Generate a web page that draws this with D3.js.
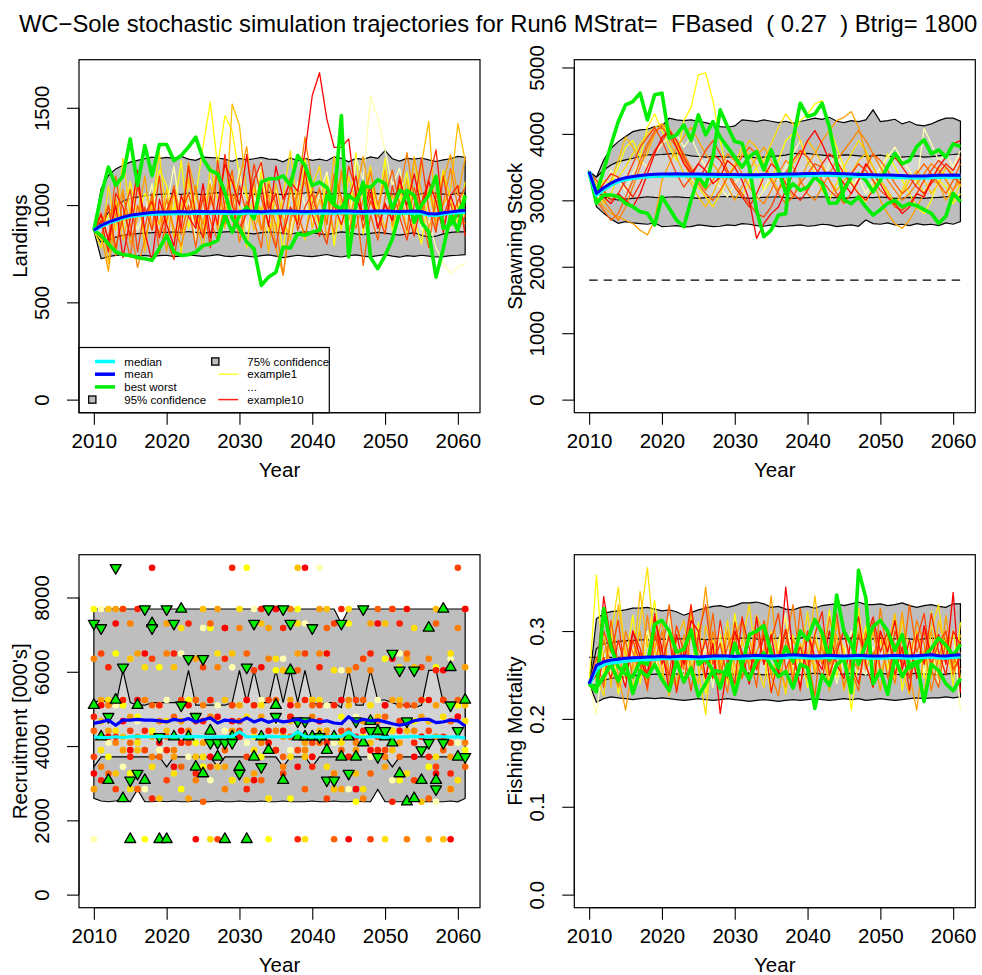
<!DOCTYPE html>
<html>
<head>
<meta charset="utf-8">
<script src="https://cdn.jsdelivr.net/npm/d3@7"></script>
<style>
  body { margin: 0; background: #fff; }
  svg { display: block; }
</style>
</head>
<body>
<svg id="chart" width="982" height="975"></svg>
<script>
// ---------------- data ----------------
const years = d3.range(2010, 2062);
const xTicks = [2010, 2020, 2030, 2040, 2050, 2060];

// Landings
const landP95hi = [
870, 1084, 1152, 1186, 1205, 1221, 1230, 1238, 1246, 1240,
1245, 1240, 1250, 1236, 1230, 1246, 1244, 1242, 1236, 1225,
1240, 1232, 1238, 1245, 1236, 1235, 1222, 1242, 1228, 1240,
1230, 1236, 1228, 1248, 1240, 1222, 1240, 1235, 1248, 1240,
1280, 1238, 1226, 1240, 1236, 1242, 1232, 1224, 1232, 1238,
1250, 1246];
const landP75hi = [
870, 912, 960, 998, 1020, 1035, 1041, 1048, 1052, 1055,
1058, 1060, 1054, 1062, 1058, 1052, 1060, 1064, 1056, 1050,
1058, 1062, 1055, 1060, 1066, 1058, 1052, 1060, 1056, 1062,
1068, 1060, 1054, 1058, 1062, 1056, 1050, 1060, 1064, 1058,
1062, 1056, 1060, 1054, 1048, 1058, 1066, 1060, 1056, 1052,
1062, 1060];
const landP75lo = [
870, 809, 822, 835, 845, 850, 853, 856, 858, 861,
860, 862, 858, 864, 860, 855, 861, 858, 862, 864,
858, 856, 852, 858, 862, 860, 856, 850, 858, 862,
858, 852, 848, 856, 862, 858, 852, 848, 855, 860,
856, 850, 846, 852, 858, 845, 835, 840, 852, 860,
862, 862];
const landP95lo = [
870, 724, 735, 741, 745, 742, 738, 741, 736, 740,
742, 735, 738, 744, 740, 736, 740, 745, 738, 735,
742, 738, 733, 740, 744, 738, 730, 736, 742, 738,
735, 740, 746, 738, 733, 740, 744, 738, 734, 740,
745, 738, 732, 740, 736, 742, 738, 733, 735, 740,
742, 745];
const landMedian = [
870, 892, 909, 922, 934, 943, 948, 952, 955, 956,
957, 958, 959, 958, 960, 959, 960, 961, 959, 960,
958, 960, 961, 960, 962, 961, 960, 962, 961, 960,
961, 962, 960, 961, 962, 963, 962, 961, 962, 963,
962, 961, 960, 961, 962, 960, 950, 948, 955, 960,
963, 965];
const landMean = [
870, 895, 912, 925, 938, 948, 953, 958, 962, 964,
965, 966, 967, 965, 968, 967, 966, 968, 967, 966,
967, 969, 968, 966, 968, 970, 969, 970, 968, 967,
968, 970, 969, 968, 969, 970, 968, 967, 968, 969,
970, 968, 967, 968, 969, 967, 955, 954, 960, 965,
970, 972];
const landBest = [
870, 1050, 1195, 1101, 1150, 1340, 1101, 1306, 1152, 1311,
1311, 1229, 1255, 1298, 1349, 1238, 1178, 1161, 1066, 931,
880, 810, 775, 587, 630, 655, 784, 780, 853, 845,
861, 870, 1049, 1000, 980, 1050, 1020, 1100, 1090, 1130,
1110, 980, 1075, 1060, 912, 1000, 1050, 1147, 880, 900,
960, 1032];
const landWorst = [
870, 844, 800, 760, 745, 741, 730, 724, 716, 777,
844, 758, 741, 745, 758, 792, 800, 818, 947, 861,
947, 989, 930, 1118, 1135, 1135, 1150, 1101, 1255, 1203,
1101, 1118, 1090, 1015, 1460, 733, 1000, 1118, 730, 673,
740, 826, 963, 1075, 1050, 912, 861, 630, 777, 947,
870, 1050];
const landExamples = [
[870, 820, 950, 1010, 880, 1120, 940, 1060, 990, 1180,
 1100, 960, 1230, 880, 1050, 1300, 1529, 1200, 1460, 1380,
 1150, 1040, 930, 1180, 860, 990, 760, 1090, 920, 1240,
 1010, 880, 1150, 790, 1030, 920, 1270, 850, 1110, 960,
 1240, 870, 1020, 1170, 930, 800, 1060, 990, 1180, 890,
 1010, 940],
[870, 900, 1000, 780, 950, 1050, 870, 960, 1110, 830,
 990, 1200, 930, 1060, 820, 970, 1130, 880, 1010, 940,
 1190, 870, 1000, 1230, 900, 1080, 960, 850, 1120, 1000,
 920, 1060, 1170, 980, 1050, 870, 1240, 1130, 1560, 1450,
 1280, 1100, 1190, 940, 1050, 870, 920, 780, 700, 650,
 680, 700],
[870, 780, 1100, 870, 1240, 950, 1150, 810, 1000, 1270,
 900, 1060, 750, 1120, 980, 840, 1200, 1030, 900, 1160,
 1000, 780, 1090, 950, 1140, 860, 1050, 1280, 970, 820,
 1100, 1200, 930, 1050, 870, 1150, 990, 1060, 1200, 880,
 1010, 930, 1110, 850, 1250, 960, 1080, 900, 1180, 1030,
 910, 1120],
[870, 930, 700, 1040, 820, 980, 1130, 760, 1050, 900,
 1080, 830, 990, 1140, 920, 780, 1050, 1180, 880, 1520,
 1409, 1060, 870, 990, 760, 1110, 930, 820, 1000, 1160,
 880, 1030, 910, 1250, 980, 840, 1090, 950, 1180, 1000,
 880, 1050, 960, 1130, 850, 1210, 1430, 910, 1000, 1080,
 1420, 1230],
[870, 850, 660, 960, 1080, 800, 930, 1150, 870, 990,
 760, 1100, 940, 1220, 1060, 900, 1110, 870, 1230, 990,
 1140, 1300, 990, 870, 1060, 780, 640, 910, 1050, 1120,
 970, 1090, 830, 1010, 1160, 920, 1060, 1250, 1010, 940,
 1180, 890, 1020, 950, 1240, 1070, 880, 1000, 1130, 1260,
 1050, 1240],
[870, 900, 1000, 740, 1060, 900, 680, 820, 980, 850,
 1030, 880, 790, 950, 1100, 850, 1010, 1160, 900, 1060,
 810, 980, 1130, 870, 1020, 900, 640, 930, 1070, 1350,
 1100, 920, 1060, 850, 1180, 1000, 880, 1030, 1170, 1000,
 1120, 960, 1060, 1270, 1040, 920, 1140, 880, 1010, 1190,
 990, 900],
[870, 960, 820, 1150, 890, 730, 1000, 880, 1060, 750,
 920, 1100, 850, 1000, 780, 1060, 920, 820, 1010, 1180,
 870, 1020, 920, 780, 1110, 1010, 860, 1100, 960, 840,
 1010, 1080, 900, 1160, 1040, 860, 1000, 690, 950, 820,
 1040, 1180, 1000, 870, 1090, 960, 780, 1060, 900, 1010,
 860, 950],
[870, 830, 1000, 780, 940, 1080, 760, 990, 870, 1150,
 830, 720, 960, 1060, 900, 1040, 780, 1230, 980, 860,
 1100, 950, 1210, 1040, 900, 780, 1000, 1140, 870, 990,
 1060, 900, 800, 1020, 950, 1200, 1080, 880, 1020, 960,
 850, 1100, 940, 820, 1000, 1240, 980, 860, 1150, 930,
 1020, 1090],
[870, 920, 760, 1060, 990, 840, 1100, 950, 1020, 830,
 970, 1080, 880, 1200, 940, 830, 1050, 900, 1260, 1000,
 870, 960, 1130, 1220, 980, 1060, 850, 990, 900, 1180,
 950, 840, 1080, 1000, 900, 1030, 1150, 920, 1060, 880,
 1000, 920, 1150, 980, 840, 1010, 1130, 1284, 940, 1050,
 1100, 840],
[870, 950, 820, 1000, 730, 930, 1180, 860, 710, 1030,
 900, 790, 1050, 940, 880, 1110, 830, 1000, 1210, 1120,
 1000, 1260, 970, 1100, 890, 1200, 1030, 1120, 1070, 1270,
 1563, 1680, 1443, 1297, 1297, 1340, 1040, 950, 1100, 880,
 1010, 920, 1130, 1000, 1160, 980, 1120, 1020, 860, 1050,
 940, 1000]
];

// Spawning stock
const ssbBtrig = 1800;
const ssbP95hi = [
3431, 3347, 3608, 3784, 3884, 3960, 4034, 4060, 4070, 4110,
4120, 4236, 4210, 4200, 4211, 4190, 4170, 4140, 4110, 4100,
4120, 4211, 4200, 4186, 4211, 4190, 4170, 4190, 4160, 4186,
4210, 4236, 4220, 4250, 4190, 4170, 4200, 4186, 4210, 4362,
4186, 4200, 4220, 4150, 4186, 4135, 4120, 4150, 4200, 4236,
4236, 4190];
const ssbP75hi = [
3431, 3347, 3457, 3532, 3582, 3610, 3633, 3660, 3683, 3683,
3690, 3700, 3708, 3690, 3670, 3660, 3650, 3660, 3658, 3650,
3660, 3658, 3650, 3640, 3650, 3658, 3670, 3680, 3708, 3700,
3708, 3690, 3680, 3670, 3670, 3683, 3680, 3670, 3660, 3670,
3680, 3660, 3658, 3650, 3660, 3670, 3650, 3658, 3670, 3683,
3690, 3700];
const ssbP75lo = [
3431, 3155, 3054, 3020, 3005, 3020, 3030, 3040, 3054, 3045,
3040, 3050, 3054, 3045, 3040, 3030, 3040, 3050, 3054, 3060,
3050, 3040, 3030, 3040, 3045, 3050, 3054, 3040, 3030, 3035,
3040, 3050, 3054, 3045, 3040, 3030, 3040, 3050, 3045, 3040,
3050, 3040, 3030, 3035, 3045, 3040, 3030, 3040, 3045, 3054,
3060, 3055];
const ssbP95lo = [
3431, 2904, 2804, 2720, 2653, 2680, 2660, 2650, 2640, 2660,
2603, 2610, 2620, 2600, 2603, 2630, 2620, 2603, 2610, 2630,
2620, 2650, 2640, 2620, 2610, 2630, 2603, 2610, 2620, 2630,
2610, 2620, 2640, 2630, 2603, 2620, 2630, 2610, 2703, 2650,
2640, 2660, 2630, 2640, 2620, 2650, 2630, 2640, 2620, 2660,
2640, 2680];
const ssbMedian = [
3431, 3080, 3165, 3235, 3285, 3315, 3335, 3350, 3360, 3367,
3371, 3373, 3375, 3373, 3371, 3370, 3369, 3367, 3365, 3363,
3362, 3361, 3360, 3361, 3363, 3365, 3367, 3370, 3373, 3375,
3378, 3380, 3382, 3383, 3380, 3375, 3370, 3365, 3363, 3360,
3357, 3355, 3351, 3347, 3343, 3340, 3343, 3347, 3351, 3353,
3355, 3353];
const ssbMean = [
3431, 3105, 3190, 3260, 3310, 3340, 3360, 3375, 3385, 3392,
3396, 3398, 3400, 3398, 3396, 3395, 3394, 3392, 3390, 3388,
3387, 3386, 3385, 3386, 3388, 3390, 3392, 3395, 3398, 3400,
3403, 3405, 3407, 3408, 3405, 3400, 3395, 3390, 3388, 3385,
3382, 3380, 3376, 3372, 3368, 3365, 3368, 3372, 3376, 3378,
3380, 3378];
const ssbBest = [
3431, 3105, 3457, 3834, 4186, 4437, 4487, 4613, 4211, 4588,
4613, 3935, 3985, 4135, 3900, 4286, 3985, 4186, 3950, 3800,
3650, 3500, 3658, 3733, 3457, 3759, 3457, 3105, 3250, 3150,
3200, 3350, 3250, 2955, 2960, 3150, 3350, 3400, 3300, 3130,
3300, 3507, 3708, 3550, 3600, 3808, 3909, 3700, 3760, 3650,
3850, 3808];
const ssbWorst = [
3431, 2955, 3080, 3080, 3054, 2955, 2904, 2828, 2804, 2628,
3054, 2880, 2703, 2603, 3005, 3356, 3206, 3650, 4362, 4110,
3884, 3859, 3500, 2850, 2452, 2552, 2778, 2800, 3909, 4462,
4260, 4300, 4462, 4100, 3558, 3005, 2950, 3050, 2900, 2778,
2860, 2955, 3000, 2900, 2950, 2920, 2860, 2804, 2653, 2760,
3105, 2980];
const ssbExamples = [
[3431, 3100, 3300, 3250, 3500, 3800, 3900, 3650, 4100, 4300,
 4050, 3800, 3600, 4200, 4400, 4889, 4920, 4500, 3900, 3400,
 3200, 3050, 3300, 3500, 3150, 3300, 3600, 3900, 4000, 4200,
 4300, 4450, 4500, 4100, 3800, 3500, 3300, 3100, 2980, 3200,
 3400, 3700, 3500, 3300, 3100, 2900, 2800, 3000, 3300, 3200,
 2950, 3100],
[3431, 3000, 3200, 3450, 3300, 3150, 3400, 3600, 3500, 3700,
 3850, 3950, 4000, 3800, 3950, 3700, 3500, 3300, 3200, 3050,
 3250, 3400, 3200, 3000, 3150, 3400, 3300, 3500, 3700, 3900,
 3600, 3450, 3300, 3550, 3700, 3400, 3200, 3350, 3100, 3300,
 3500, 3650, 3800, 3600, 3450, 3250, 4085, 3850, 3600, 3700,
 3500, 3750],
[3431, 3200, 2950, 3100, 3350, 3500, 3700, 3850, 4000, 4100,
 4150, 4020, 3850, 3600, 3300, 3200, 3050, 2900, 3100, 3350,
 3550, 3800, 3700, 3500, 3600, 3850, 4100, 4300, 4150, 3900,
 3600, 3400, 3150, 3000, 3250, 3500, 3700, 3900, 3750, 3500,
 3300, 3100, 2900, 3150, 3400, 3300, 3100, 3300, 3500, 3350,
 3000, 3250],
[3431, 3250, 3100, 3300, 3600, 3950, 3800, 3550, 3700, 4000,
 4150, 3900, 3650, 3400, 3250, 3050, 2900, 3100, 3350, 3600,
 3500, 3700, 3900, 3800, 3550, 3350, 3150, 3300, 3550, 3700,
 3900, 3750, 3550, 3300, 3150, 3300, 3400, 3600, 3700, 3500,
 3300, 3150, 2950, 3100, 3300, 3450, 3300, 3100, 3250, 3500,
 3400, 3200],
[3431, 3050, 2900, 2800, 2750, 2700, 2650, 2550, 2480, 2700,
 3300, 3550, 3800, 3950, 4100, 3900, 3700, 3550, 3400, 3200,
 3000, 3200, 3450, 3650, 3800, 3600, 3400, 3200, 3050, 3300,
 3550, 3700, 3900, 4050, 4200, 4250, 4336, 4100, 3700, 3300,
 3000, 2800, 2650, 2580, 2700, 2900, 3100, 3300, 3250, 3000,
 3150, 3300],
[3431, 3150, 3000, 2850, 2700, 2900, 3200, 3500, 3800, 4000,
 4150, 4080, 3900, 3700, 3500, 3300, 3150, 3300, 3500, 3700,
 3600, 3400, 3200, 3050, 2950, 3150, 3400, 3600, 3500, 3300,
 3100, 3000, 3200, 3400, 3600, 3750, 3900, 4050, 3900, 3700,
 3500, 3300, 3150, 3000, 3100, 3250, 3400, 3550, 3450, 3300,
 3150, 3400],
[3431, 3000, 2850, 2700, 2800, 3050, 3300, 3600, 3850, 4050,
 4100, 3950, 3800, 3600, 3400, 3250, 3100, 3000, 3150, 3350,
 3500, 3650, 3800, 3700, 3500, 3300, 3100, 2950, 3050, 3250,
 3400, 3550, 3500, 3300, 3100, 2950, 3100, 3300, 3500, 3700,
 3600, 3450, 3250, 3100, 3200, 3400, 3550, 3400, 3250, 3100,
 3300, 3550],
[3431, 3300, 3150, 3000, 3100, 3300, 3550, 3800, 3950, 4100,
 3900, 3650, 3400, 3200, 3350, 3550, 3750, 3900, 3700, 3450,
 3250, 3100, 2950, 2800, 2750, 2900, 3150, 3400, 3600, 3750,
 3650, 3500, 3300, 3150, 3050, 3200, 3400, 3550, 3450, 3300,
 3150, 3050, 2900, 2850, 2950, 3100, 3300, 3450, 3600, 3500,
 3350, 3250],
[3431, 3100, 3250, 3400, 3350, 3200, 3050, 3250, 3500, 3750,
 3900, 4050, 3900, 3650, 3450, 3300, 3500, 3700, 3600, 3400,
 3200, 3050, 2900, 3100, 3350, 3550, 3450, 3250, 3100, 3000,
 3150, 3350, 3550, 3700, 3600, 3400, 3250, 3100, 3000, 3150,
 3300, 3500, 3650, 3500, 3350, 3200, 3100, 3250, 3400, 3550,
 3450, 3650],
[3431, 3150, 3050, 2950, 3100, 3000, 2900, 3100, 3400, 3700,
 3950, 4050, 3800, 3550, 3400, 3550, 3450, 3250, 3350, 3600,
 3500, 3300, 3000, 2427, 2650, 2800, 2900, 3150, 3400, 3650,
 3900, 4050, 3850, 3600, 3400, 3250, 3100, 3300, 3550, 3400,
 3250, 3050, 2950, 2800, 2900, 3100, 3050, 3300, 3500, 3650,
 3850, 3900]
];

// Recruitment [000's]
const recP95hi = [
7690, 7690, 7690, 7690, 7690, 7690, 7690, 7690, 7690, 7690,
7690, 7690, 7690, 7690, 7690, 7690, 7690, 7690, 7690, 7690,
7690, 7690, 7690, 7690, 7690, 7690, 7690, 7690, 7690, 7690,
7690, 7690, 7690, 7690, 7300, 7690, 7690, 7690, 7690, 7690,
7690, 7690, 7690, 7690, 7690, 7690, 7690, 7690, 7690, 7690,
7690, 7690];
const recP75hi = [
5170, 5240, 5170, 5100, 6040, 5170, 5100, 5100, 5170, 5170,
5170, 5170, 5170, 6040, 5100, 5100, 5100, 5100, 5100, 5170,
6040, 5170, 6040, 5170, 5170, 6040, 5170, 6040, 5170, 6040,
5170, 5100, 5170, 5170, 5030, 6040, 5100, 5100, 6040, 5240,
5240, 5170, 5100, 5100, 5030, 5100, 6040, 6040, 5170, 5170,
5170, 5170];
const recP75lo = [
3440, 3710, 3710, 3710, 3710, 3710, 3710, 3710, 3710, 3710,
3440, 3710, 3710, 3710, 3710, 3710, 3710, 3440, 3710, 3710,
3710, 3710, 3710, 3710, 3710, 3710, 3440, 3710, 3710, 3710,
3440, 3710, 3710, 3710, 3710, 3710, 3710, 3710, 3710, 3710,
3710, 3440, 3710, 3710, 3710, 3710, 3710, 3710, 3710, 3710,
3710, 3710];
const recP95lo = [
2590, 2520, 2500, 2520, 2590, 2500, 2835, 2500, 2500, 2520,
2500, 2520, 2500, 2500, 2520, 2500, 2500, 2520, 2500, 2500,
2520, 2500, 2500, 2520, 2500, 2500, 2520, 2500, 2500, 2500,
2520, 2500, 2500, 2520, 2500, 2500, 2520, 2500, 2500, 2835,
2500, 2500, 2500, 2500, 2520, 2500, 2500, 2500, 2500, 2520,
2500, 2590];
const recMedian = [
4250, 4230, 4230, 4250, 4230, 4250, 4260, 4250, 4250, 4260,
4250, 4260, 4250, 4250, 4260, 4250, 4240, 4250, 4250, 4260,
4380, 4250, 4250, 4250, 4260, 4250, 4250, 4250, 4380, 4250,
4250, 4240, 4250, 4260, 4250, 4380, 4250, 4240, 4250, 4250,
4230, 4250, 4240, 4250, 4260, 4250, 4250, 4260, 4250, 4240,
4250, 4210];
const recMean = [
4610, 4650, 4700, 4560, 4700, 4700, 4720, 4700, 4700, 4680,
4650, 4720, 4680, 4740, 4650, 4700, 4760, 4620, 4700, 4680,
4650, 4760, 4650, 4720, 4640, 4700, 4650, 4680, 4720, 4650,
4700, 4650, 4680, 4620, 4600, 4790, 4650, 4720, 4680, 4700,
4650, 4600, 4560, 4600, 4680, 4720, 4720, 4630, 4650, 4700,
4680, 4540];
const recBest = [
5100, 4250, 3080, 5240, 2590, 1490, 5100, 3080, 7300, 1490,
1490, 4250, 7690, 4250, 3440, 3260, 4410, 3710, 1490, 4250,
3440, 1490, 3710, 4250, 3890, 5100, 3080, 6040, 4250, 4250,
4250, 4250, 3890, 4250, 3710, 4250, 3710, 4090, 4670, 4410,
4250, 4090, 3260, 2500, 2590, 3080, 7180, 3080, 7690, 6120,
3710, 5240];
const recWorst = [
7300, 7180, 4790, 8800, 6120, 3080, 3260, 7690, 7180, 4250,
7690, 7300, 5100, 6350, 4790, 6350, 4090, 4090, 4090, 4090,
3260, 6120, 7300, 3440, 7690, 4790, 7690, 7300, 4670, 4670,
7180, 4250, 3080, 3080, 7300, 3260, 4670, 7690, 4410, 3710,
4410, 6490, 6040, 4670, 6040, 3890, 4090, 2840, 4090, 5100,
4410, 3710];
const recExamples = [
[7690, 4250, 3710, 6490, 5100, 3260, 4790, 1490, 4410, 6120,
 3890, 7300, 2840, 5240, 4090, 3440, 7180, 4670, 6350, 3080,
 5100, 8800, 4250, 3710, 1490, 6040, 4410, 2590, 7690, 3890,
 5240, 4090, 6490, 3260, 4790, 7300, 2500, 4250, 5100, 3710,
 6350, 4410, 3080, 7690, 4670, 5240, 3440, 6120, 4090, 2840,
 5100, 3890],
[1490, 7690, 4090, 5100, 3440, 6350, 4670, 2840, 7300, 3890,
 5240, 4250, 6490, 3710, 4790, 7180, 3080, 5100, 4410, 6120,
 3260, 4090, 7690, 5240, 2590, 4670, 6350, 3890, 4250, 7300,
 3440, 8800, 5100, 4090, 6040, 2840, 4790, 7690, 3710, 5240,
 4250, 3080, 6490, 4410, 5100, 3890, 7180, 2500, 4670, 6350,
 4090, 7690],
[7300, 3890, 5240, 4410, 7690, 2840, 4090, 6120, 3440, 5100,
 4670, 3260, 7180, 4250, 5240, 3710, 1490, 6490, 4090, 3080,
 7690, 4790, 3890, 5100, 2590, 6350, 4410, 3710, 7300, 1490,
 4250, 5240, 3440, 6040, 4090, 7690, 4670, 2840, 5100, 3890,
 1490, 4410, 6120, 3260, 7180, 4250, 5240, 3710, 4790, 6490,
 3080, 4670],
[5100, 4670, 7690, 3260, 4250, 6350, 3890, 5240, 7180, 2590,
 4410, 6120, 4090, 5100, 3710, 7690, 4790, 3440, 5240, 6490,
 4250, 3080, 5100, 7300, 4090, 3890, 6040, 4670, 8800, 3710,
 5240, 4410, 7690, 2840, 4250, 5100, 3260, 6350, 4090, 4790,
 7300, 3890, 5240, 4410, 6120, 2500, 4670, 7690, 1490, 4090,
 3710, 5100],
[2840, 5240, 4410, 7690, 3890, 4790, 6490, 3080, 4250, 5100,
 7300, 3710, 4670, 2590, 6350, 4090, 5240, 7690, 3440, 4410,
 5100, 6120, 3260, 4790, 7180, 3890, 4250, 5240, 6490, 4090,
 3710, 7690, 4410, 5100, 2840, 6040, 3890, 4670, 7300, 4250,
 3440, 5240, 4090, 6350, 3080, 4790, 1490, 5100, 7690, 3710,
 4410, 6120],
[6350, 3440, 5100, 4090, 2590, 7300, 4250, 5240, 3710, 4670,
 6490, 3890, 7690, 4410, 3080, 5100, 4790, 6120, 2840, 4250,
 7180, 5240, 3710, 4090, 6350, 4410, 3440, 7690, 5100, 3890,
 4790, 6490, 4250, 3260, 7300, 5240, 4090, 2590, 6040, 4670,
 3710, 7690, 5100, 1490, 4410, 3890, 6350, 4250, 5240, 2840,
 7180, 4090],
[4410, 7180, 3260, 5240, 6120, 4090, 2840, 7690, 5100, 3710,
 4250, 4790, 3440, 6350, 5240, 2500, 7300, 4090, 3890, 5100,
 4670, 6490, 4410, 3080, 7690, 5240, 3710, 4250, 6040, 2840,
 5100, 4090, 7180, 1490, 3890, 4410, 6120, 5240, 3260, 7690,
 4790, 4090, 3710, 6490, 5100, 4250, 2590, 7300, 3890, 4670,
 5240, 3440],
[3710, 6490, 4790, 2840, 7690, 4410, 5100, 3890, 6350, 4250,
 3080, 7300, 5240, 4090, 4670, 6120, 3440, 1490, 7180, 5100,
 4410, 3710, 6040, 4250, 5240, 7690, 3260, 4790, 3890, 6490,
 4090, 5100, 2590, 7300, 4410, 3710, 5240, 6350, 1490, 4250,
 3890, 7690, 4670, 5100, 3080, 6120, 4410, 3440, 5240, 4090,
 8800, 3710],
[4790, 3080, 6120, 4250, 5240, 3710, 7690, 4410, 2590, 5100,
 3890, 6490, 4090, 7300, 3260, 4670, 5240, 3710, 6350, 8800,
 4250, 2840, 5100, 7690, 4410, 3890, 7180, 4790, 1490, 5240,
 3440, 6120, 4090, 5100, 7690, 3710, 4250, 4410, 6490, 3890,
 5100, 2500, 7300, 4670, 4090, 5240, 3710, 6040, 4250, 3260,
 4790, 7690],
[3260, 5100, 4250, 7300, 4670, 3890, 5240, 6490, 8800, 4090,
 7690, 3440, 4410, 5100, 1490, 6350, 3710, 4790, 7180, 4670,
 4250, 5240, 3080, 6120, 4090, 7690, 4410, 5100, 3440, 8800,
 3710, 4670, 6490, 4250, 5240, 1490, 2840, 4090, 3890, 7300,
 5100, 6350, 4410, 7690, 3710, 4250, 5240, 3260, 6040, 1490,
 4790, 7690]
];

// Fishing mortality
const fTarget = 0.27;
const fP95hi = [
0.240, 0.314, 0.320, 0.322, 0.323, 0.324, 0.326, 0.326, 0.327, 0.325,
0.323, 0.324, 0.322, 0.318, 0.321, 0.324, 0.326, 0.328, 0.329, 0.327,
0.329, 0.332, 0.332, 0.333, 0.331, 0.327, 0.328, 0.325, 0.324, 0.327,
0.328, 0.326, 0.329, 0.330, 0.331, 0.329, 0.331, 0.333, 0.330, 0.330,
0.331, 0.329, 0.330, 0.332, 0.329, 0.327, 0.329, 0.330, 0.328, 0.327,
0.331, 0.331];
const fP75hi = [
0.240, 0.280, 0.2855, 0.287, 0.288, 0.289, 0.289, 0.290, 0.290, 0.290,
0.291, 0.290, 0.291, 0.291, 0.292, 0.291, 0.290, 0.291, 0.292, 0.291,
0.291, 0.292, 0.292, 0.291, 0.290, 0.291, 0.292, 0.292, 0.291, 0.292,
0.293, 0.292, 0.291, 0.292, 0.291, 0.291, 0.292, 0.291, 0.290, 0.291,
0.292, 0.291, 0.291, 0.292, 0.291, 0.290, 0.291, 0.292, 0.291, 0.291,
0.292, 0.292];
const fP75lo = [
0.240, 0.238, 0.244, 0.246, 0.2477, 0.248, 0.249, 0.250, 0.250, 0.251,
0.251, 0.250, 0.251, 0.252, 0.251, 0.250, 0.251, 0.252, 0.251, 0.250,
0.251, 0.251, 0.252, 0.251, 0.250, 0.251, 0.252, 0.251, 0.251, 0.250,
0.251, 0.252, 0.251, 0.250, 0.251, 0.251, 0.252, 0.251, 0.250, 0.251,
0.252, 0.251, 0.251, 0.250, 0.251, 0.252, 0.251, 0.251, 0.250, 0.251,
0.252, 0.251];
const fP95lo = [
0.240, 0.219, 0.223, 0.225, 0.224, 0.223, 0.222, 0.223, 0.224, 0.223,
0.224, 0.223, 0.222, 0.221, 0.222, 0.223, 0.222, 0.221, 0.222, 0.223,
0.222, 0.221, 0.220, 0.221, 0.222, 0.221, 0.220, 0.221, 0.222, 0.221,
0.222, 0.223, 0.222, 0.221, 0.222, 0.223, 0.222, 0.223, 0.221, 0.222,
0.223, 0.222, 0.221, 0.222, 0.223, 0.224, 0.223, 0.224, 0.224, 0.225,
0.224, 0.225];
const fMedian = [
0.240, 0.257, 0.262, 0.264, 0.265, 0.266, 0.267, 0.268, 0.268, 0.268,
0.269, 0.269, 0.269, 0.2695, 0.269, 0.269, 0.269, 0.2695, 0.270, 0.2695,
0.269, 0.2695, 0.270, 0.2705, 0.270, 0.2695, 0.270, 0.2705, 0.271, 0.2705,
0.270, 0.2695, 0.270, 0.2705, 0.270, 0.2695, 0.270, 0.2705, 0.270, 0.2695,
0.2695, 0.270, 0.2705, 0.270, 0.2695, 0.270, 0.2705, 0.271, 0.270, 0.2695,
0.2705, 0.271];
const fMean = [
0.240, 0.261, 0.265, 0.267, 0.268, 0.269, 0.2695, 0.270, 0.2705, 0.2705,
0.271, 0.2705, 0.271, 0.2715, 0.271, 0.2705, 0.271, 0.2715, 0.272, 0.2715,
0.271, 0.2715, 0.272, 0.2725, 0.272, 0.2715, 0.272, 0.2725, 0.273, 0.2725,
0.272, 0.2715, 0.272, 0.2725, 0.272, 0.2715, 0.272, 0.2725, 0.272, 0.2715,
0.2715, 0.272, 0.2725, 0.272, 0.2715, 0.272, 0.2725, 0.273, 0.272, 0.2715,
0.2725, 0.273];
const fBest = [
0.240, 0.231, 0.3255, 0.282, 0.259, 0.251, 0.248, 0.265, 0.262, 0.308,
0.312, 0.300, 0.276, 0.279, 0.301, 0.262, 0.268, 0.255, 0.254, 0.250,
0.286, 0.260, 0.296, 0.300, 0.306, 0.275, 0.258, 0.282, 0.265, 0.300,
0.290, 0.313, 0.298, 0.267, 0.341, 0.300, 0.285, 0.262, 0.285, 0.305,
0.312, 0.300, 0.278, 0.296, 0.258, 0.262, 0.271, 0.280, 0.292, 0.284,
0.272, 0.285];
const fWorst = [
0.240, 0.235, 0.248, 0.262, 0.243, 0.265, 0.229, 0.255, 0.248, 0.262,
0.245, 0.232, 0.266, 0.242, 0.258, 0.226, 0.240, 0.255, 0.235, 0.262,
0.228, 0.260, 0.245, 0.266, 0.275, 0.260, 0.248, 0.254, 0.235, 0.262,
0.258, 0.212, 0.250, 0.238, 0.262, 0.268, 0.230, 0.369, 0.338, 0.240,
0.255, 0.228, 0.270, 0.248, 0.262, 0.265, 0.220, 0.262, 0.255, 0.240,
0.232, 0.246];
const fExamples = [
[0.240, 0.364, 0.250, 0.300, 0.228, 0.265, 0.318, 0.240, 0.290, 0.335,
 0.262, 0.300, 0.236, 0.280, 0.250, 0.310, 0.228, 0.270, 0.296, 0.240,
 0.320, 0.262, 0.246, 0.302, 0.270, 0.230, 0.288, 0.316, 0.250, 0.276,
 0.236, 0.300, 0.262, 0.324, 0.248, 0.282, 0.210, 0.266, 0.306, 0.240,
 0.290, 0.256, 0.316, 0.232, 0.275, 0.300, 0.246, 0.322, 0.262, 0.292,
 0.238, 0.310],
[0.240, 0.205, 0.275, 0.250, 0.290, 0.240, 0.280, 0.262, 0.300, 0.270,
 0.245, 0.316, 0.270, 0.248, 0.296, 0.262, 0.280, 0.236, 0.306, 0.272,
 0.255, 0.290, 0.262, 0.300, 0.275, 0.250, 0.280, 0.320, 0.262, 0.242,
 0.296, 0.270, 0.256, 0.286, 0.240, 0.272, 0.300, 0.262, 0.250, 0.282,
 0.268, 0.296, 0.244, 0.276, 0.262, 0.300, 0.252, 0.284, 0.240, 0.270,
 0.300, 0.210],
[0.240, 0.250, 0.226, 0.296, 0.350, 0.265, 0.236, 0.312, 0.372, 0.280,
 0.246, 0.300, 0.232, 0.275, 0.320, 0.256, 0.205, 0.290, 0.262, 0.312,
 0.250, 0.286, 0.330, 0.262, 0.236, 0.300, 0.270, 0.228, 0.296, 0.262,
 0.322, 0.256, 0.290, 0.240, 0.310, 0.276, 0.250, 0.326, 0.262, 0.236,
 0.300, 0.270, 0.246, 0.312, 0.282, 0.256, 0.226, 0.302, 0.330, 0.264,
 0.300, 0.246],
[0.240, 0.262, 0.300, 0.236, 0.330, 0.275, 0.256, 0.345, 0.282, 0.300,
 0.256, 0.226, 0.290, 0.312, 0.262, 0.240, 0.306, 0.276, 0.256, 0.300,
 0.232, 0.290, 0.262, 0.318, 0.296, 0.250, 0.276, 0.302, 0.246, 0.286,
 0.262, 0.340, 0.280, 0.250, 0.296, 0.232, 0.270, 0.312, 0.262, 0.300,
 0.250, 0.282, 0.320, 0.256, 0.228, 0.300, 0.270, 0.246, 0.312, 0.280,
 0.256, 0.296],
[0.240, 0.230, 0.275, 0.290, 0.250, 0.210, 0.262, 0.300, 0.240, 0.280,
 0.312, 0.252, 0.236, 0.296, 0.256, 0.280, 0.350, 0.276, 0.240, 0.300,
 0.262, 0.246, 0.292, 0.256, 0.276, 0.340, 0.262, 0.236, 0.290, 0.270,
 0.300, 0.250, 0.282, 0.232, 0.312, 0.266, 0.240, 0.300, 0.256, 0.276,
 0.232, 0.296, 0.262, 0.322, 0.250, 0.210, 0.276, 0.300, 0.246, 0.318,
 0.262, 0.290],
[0.240, 0.250, 0.290, 0.262, 0.236, 0.300, 0.276, 0.250, 0.318, 0.262,
 0.300, 0.240, 0.282, 0.256, 0.326, 0.270, 0.246, 0.300, 0.262, 0.230,
 0.292, 0.312, 0.256, 0.276, 0.300, 0.250, 0.226, 0.286, 0.330, 0.262,
 0.246, 0.290, 0.262, 0.316, 0.280, 0.236, 0.270, 0.256, 0.300, 0.246,
 0.326, 0.270, 0.240, 0.296, 0.262, 0.312, 0.286, 0.232, 0.270, 0.300,
 0.250, 0.276],
[0.240, 0.270, 0.236, 0.312, 0.262, 0.290, 0.246, 0.276, 0.232, 0.300,
 0.276, 0.330, 0.262, 0.240, 0.300, 0.280, 0.262, 0.320, 0.250, 0.282,
 0.300, 0.246, 0.276, 0.236, 0.312, 0.282, 0.262, 0.300, 0.240, 0.326,
 0.270, 0.226, 0.296, 0.262, 0.282, 0.300, 0.256, 0.232, 0.290, 0.270,
 0.300, 0.246, 0.286, 0.262, 0.330, 0.276, 0.300, 0.256, 0.236, 0.290,
 0.270, 0.256],
[0.240, 0.256, 0.300, 0.276, 0.312, 0.246, 0.290, 0.262, 0.236, 0.296,
 0.270, 0.250, 0.306, 0.276, 0.232, 0.296, 0.330, 0.262, 0.286, 0.246,
 0.310, 0.270, 0.240, 0.300, 0.262, 0.290, 0.320, 0.256, 0.276, 0.232,
 0.300, 0.270, 0.246, 0.286, 0.320, 0.262, 0.240, 0.296, 0.270, 0.310,
 0.256, 0.232, 0.300, 0.276, 0.246, 0.290, 0.320, 0.262, 0.286, 0.300,
 0.256, 0.270],
[0.240, 0.232, 0.270, 0.246, 0.290, 0.256, 0.300, 0.280, 0.250, 0.320,
 0.262, 0.296, 0.230, 0.276, 0.330, 0.262, 0.290, 0.246, 0.312, 0.262,
 0.240, 0.316, 0.280, 0.256, 0.296, 0.230, 0.270, 0.302, 0.262, 0.282,
 0.256, 0.296, 0.322, 0.250, 0.276, 0.300, 0.262, 0.240, 0.290, 0.316,
 0.276, 0.300, 0.250, 0.282, 0.232, 0.296, 0.262, 0.320, 0.276, 0.250,
 0.300, 0.284],
[0.240, 0.250, 0.339, 0.290, 0.262, 0.236, 0.300, 0.270, 0.246, 0.316,
 0.280, 0.232, 0.296, 0.262, 0.312, 0.300, 0.246, 0.286, 0.206, 0.262,
 0.300, 0.276, 0.240, 0.316, 0.262, 0.296, 0.250, 0.350, 0.276, 0.236,
 0.296, 0.270, 0.256, 0.300, 0.262, 0.246, 0.290, 0.316, 0.262, 0.236,
 0.300, 0.276, 0.312, 0.256, 0.290, 0.246, 0.306, 0.270, 0.296, 0.262,
 0.344, 0.230]
];

// ---------------- drawing ----------------
const FONT = "'Liberation Sans', Arial, Helvetica, sans-serif";
const AXIS_FS = 20.5;
const exColors = ["#FFFF00", "#FFFFB0", "#FFE000", "#FFC000", "#FFA000",
                  "#FF8000", "#FF6000", "#FF4000", "#FF2000", "#FF0000"];
const GREEN = "#00EE00";
const BAND95 = "#BEBEBE", BAND75 = "#D3D3D3";

const svg = d3.select("#chart").attr("font-family", FONT);
svg.append("rect").attr("width", 982).attr("height", 975).attr("fill", "#fff");

svg.append("text")
  .attr("x", 498).attr("y", 32)
  .attr("text-anchor", "middle")
  .attr("font-size", 23.8)
  .style("white-space", "pre")
  .text("WC\u2212Sole stochastic simulation trajectories for Run6 MStrat=  FBased  ( 0.27  ) Btrig= 1800");

const xDomain = [2010 - 0.04 * 51, 2061 + 0.04 * 51];
let clipCount = 0;

function makePanel(cfg) {
  const { left, top, w, h, series, yTicks, yFmt, yLabel } = cfg;
  const maxVal = d3.max(series.flat());
  const x = d3.scaleLinear().domain(xDomain).range([left, left + w]);
  const y = d3.scaleLinear().domain([-0.04 * maxVal, 1.04 * maxVal]).range([top + h, top]);

  const id = "clip" + (clipCount++);
  svg.append("clipPath").attr("id", id)
    .append("rect").attr("x", left).attr("y", top).attr("width", w).attr("height", h);
  const plot = svg.append("g").attr("clip-path", `url(#${id})`);

  // y axis
  const ya = svg.append("g")
    .attr("transform", `translate(${left},0)`)
    .call(d3.axisLeft(y).tickValues(yTicks).tickSize(12).tickFormat(yFmt))
    .attr("font-family", FONT).attr("font-size", AXIS_FS);
  ya.select(".domain").remove();
  ya.selectAll(".tick line").attr("stroke", "#000").attr("stroke-width", 1.1);
  ya.selectAll(".tick text")
    .attr("x", 0).attr("dy", 0).attr("fill", "#000")
    .attr("text-anchor", "middle")
    .attr("transform", "translate(-30,0) rotate(-90)");
  ya.append("line")
    .attr("x1", 0).attr("x2", 0)
    .attr("y1", y(yTicks[0])).attr("y2", y(yTicks[yTicks.length - 1]))
    .attr("stroke", "#000").attr("stroke-width", 1.1);

  // x axis
  const xa = svg.append("g")
    .attr("transform", `translate(0,${top + h})`)
    .call(d3.axisBottom(x).tickValues(xTicks).tickSize(12).tickFormat(d3.format("d")))
    .attr("font-family", FONT).attr("font-size", AXIS_FS);
  xa.select(".domain").remove();
  xa.selectAll(".tick line").attr("stroke", "#000").attr("stroke-width", 1.1);
  xa.selectAll(".tick text").attr("y", 35.5).attr("dy", 0).attr("fill", "#000");
  xa.append("line")
    .attr("x1", x(xTicks[0])).attr("x2", x(xTicks[xTicks.length - 1]))
    .attr("y1", 0).attr("y2", 0)
    .attr("stroke", "#000").attr("stroke-width", 1.1);

  // axis titles
  svg.append("text")
    .attr("transform", `translate(${left - 52},${top + h / 2}) rotate(-90)`)
    .attr("text-anchor", "middle").attr("font-size", AXIS_FS)
    .text(yLabel);
  svg.append("text")
    .attr("x", left + w / 2).attr("y", top + h + 64)
    .attr("text-anchor", "middle").attr("font-size", AXIS_FS)
    .text("Year");

  return { x, y, plot, left, top, w, h };
}

function drawBands(p, lo95, lo75, hi75, hi95) {
  const band = (lo, hi) => d3.area()
    .x((d, i) => p.x(years[i]))
    .y0((d, i) => p.y(lo[i]))
    .y1((d, i) => p.y(hi[i]))(years);
  p.plot.append("path").attr("d", band(lo95, hi95))
    .attr("fill", BAND95).attr("stroke", "#000").attr("stroke-width", 1.2);
  p.plot.append("path").attr("d", band(lo75, hi75))
    .attr("fill", BAND75).attr("stroke", "#000").attr("stroke-width", 1.2);
}

function drawLine(p, values, color, width, dash) {
  const line = d3.line().x((d, i) => p.x(years[i])).y(d => p.y(d));
  const path = p.plot.append("path").attr("d", line(values))
    .attr("fill", "none").attr("stroke", color)
    .attr("stroke-width", width).attr("stroke-linejoin", "round");
  if (dash) path.attr("stroke-dasharray", dash);
}

function drawRefLine(p, value) {
  drawLine(p, years.map(() => value), "#000", 1.2, "8.5,6");
}

function drawBox(p) {
  svg.append("rect")
    .attr("x", p.left).attr("y", p.top).attr("width", p.w).attr("height", p.h)
    .attr("fill", "none").attr("stroke", "#000").attr("stroke-width", 1.2);
}

// --- Landings ---
const pL = makePanel({
  left: 79, top: 59.7, w: 401, h: 353,
  series: [landP95hi, landP95lo, landBest, landWorst, ...landExamples],
  yTicks: [0, 500, 1000, 1500], yFmt: d3.format("d"), yLabel: "Landings"
});
drawBands(pL, landP95lo, landP75lo, landP75hi, landP95hi);
landExamples.forEach((s, i) => drawLine(pL, s, exColors[i], 1.3));
drawLine(pL, landBest, GREEN, 3.6);
drawLine(pL, landWorst, GREEN, 3.6);
drawLine(pL, landMedian, "#00FFFF", 4);
drawLine(pL, landMean, "#0000FF", 3);

// legend
const lg = svg.append("g").attr("font-size", 11.5);
lg.append("rect").attr("x", 79).attr("y", 347.5).attr("width", 250.3).attr("height", 65.2)
  .attr("fill", "#fff").attr("stroke", "#000").attr("stroke-width", 1.2);
const legendRows = [361.5, 374.2, 386.9, 399.6];
const legendItems = [
  { col: 0, row: 0, label: "median", kind: "line", color: "#00FFFF", width: 3.5 },
  { col: 0, row: 1, label: "mean", kind: "line", color: "#0000FF", width: 3.5 },
  { col: 0, row: 2, label: "best worst", kind: "line", color: GREEN, width: 3.5 },
  { col: 0, row: 3, label: "95% confidence", kind: "box", color: BAND95 },
  { col: 1, row: 0, label: "75% confidence", kind: "box", color: BAND95 },
  { col: 1, row: 1, label: "example1", kind: "line", color: "#FFFF30", width: 1.5 },
  { col: 1, row: 2, label: "...", kind: "none" },
  { col: 1, row: 3, label: "example10", kind: "line", color: "#FF2020", width: 1.5 }
];
const colX = [{ l0: 95, l1: 115, box: 92.3, text: 124.3 }, { l0: 218.3, l1: 238.3, box: 215.3, text: 247.3 }];
legendItems.forEach(it => {
  const c = colX[it.col], yy = legendRows[it.row];
  if (it.kind === "line") {
    lg.append("line").attr("x1", c.l0).attr("x2", c.l1).attr("y1", yy).attr("y2", yy)
      .attr("stroke", it.color).attr("stroke-width", it.width);
  } else if (it.kind === "box") {
    lg.append("rect").attr("x", c.box - 3.6).attr("y", yy - 3.6).attr("width", 7.2).attr("height", 7.2)
      .attr("fill", it.color).attr("stroke", "#000").attr("stroke-width", 1.3);
  }
  lg.append("text").attr("x", c.text).attr("y", yy + 4.1).text(it.label);
});
drawBox(pL);

// --- Spawning Stock ---
const pS = makePanel({
  left: 574.3, top: 59.7, w: 401, h: 353,
  series: [ssbP95hi, ssbP95lo, ssbBest, ssbWorst, ...ssbExamples],
  yTicks: [0, 1000, 2000, 3000, 4000, 5000], yFmt: d3.format("d"), yLabel: "Spawning Stock"
});
drawBands(pS, ssbP95lo, ssbP75lo, ssbP75hi, ssbP95hi);
ssbExamples.forEach((s, i) => drawLine(pS, s, exColors[i], 1.3));
drawLine(pS, ssbBest, GREEN, 3.6);
drawLine(pS, ssbWorst, GREEN, 3.6);
drawLine(pS, ssbMedian, "#00FFFF", 4);
drawLine(pS, ssbMean, "#0000FF", 3);
drawRefLine(pS, ssbBtrig);
drawBox(pS);

// --- Recruitment ---
const pR = makePanel({
  left: 79, top: 554.7, w: 401, h: 353,
  series: [recP95hi, recP95lo, recBest, recWorst, ...recExamples],
  yTicks: [0, 2000, 4000, 6000, 8000], yFmt: d3.format("d"), yLabel: "Recruitment [000's]"
});
drawBands(pR, recP95lo, recP75lo, recP75hi, recP95hi);
recExamples.forEach((s, i) => {
  pR.plot.append("g").selectAll("circle").data(s).join("circle")
    .attr("cx", (d, j) => pR.x(years[j])).attr("cy", d => pR.y(d))
    .attr("r", 3.3).attr("fill", exColors[i]);
});
const triUp = "M0,-6.4L5.5,3.2L-5.5,3.2Z";
const triDown = "M0,6.4L5.5,-3.2L-5.5,-3.2Z";
[[recBest, triUp], [recWorst, triDown]].forEach(([s, shape]) => {
  pR.plot.append("g").selectAll("path").data(s).join("path")
    .attr("d", shape)
    .attr("transform", (d, j) => `translate(${pR.x(years[j])},${pR.y(d)})`)
    .attr("fill", GREEN).attr("stroke", "#000").attr("stroke-width", 1.3)
    .attr("stroke-linejoin", "round");
});
drawLine(pR, recMedian, "#00FFFF", 3.2);
drawLine(pR, recMean, "#0000FF", 3.2);
drawBox(pR);

// --- Fishing Mortality ---
const pF = makePanel({
  left: 574.3, top: 554.7, w: 401, h: 353,
  series: [fP95hi, fP95lo, fBest, fWorst, ...fExamples],
  yTicks: [0, 0.1, 0.2, 0.3], yFmt: d3.format(".1f"), yLabel: "Fishing Mortality"
});
drawBands(pF, fP95lo, fP75lo, fP75hi, fP95hi);
drawRefLine(pF, fTarget);
fExamples.forEach((s, i) => drawLine(pF, s, exColors[i], 1.3));
drawLine(pF, fBest, GREEN, 3.6);
drawLine(pF, fWorst, GREEN, 3.6);
drawLine(pF, fMedian, "#00FFFF", 4);
drawLine(pF, fMean, "#0000FF", 3);
drawBox(pF);
</script>
</body>
</html>
